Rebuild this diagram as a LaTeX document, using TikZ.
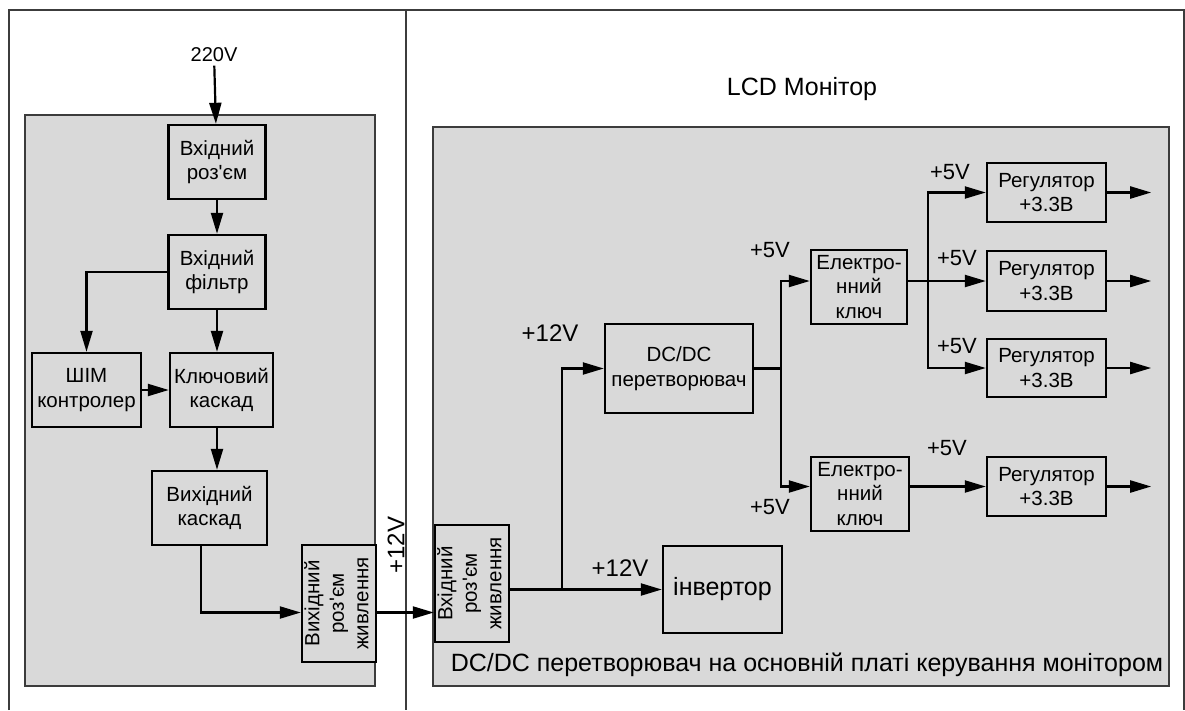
\documentclass[tikz,border=0pt]{standalone}
\usepackage{fontspec}
\usepackage{graphicx}
\setmainfont{Liberation Sans}
\usetikzlibrary{arrows.meta}
\definecolor{panelgray}{RGB}{217,217,217}
\definecolor{framegray}{RGB}{60,60,60}
\newcommand{\apos}{\textquotesingle}
\tikzset{
  blok/.style={draw,line width=2.4pt,fill=panelgray,inner sep=0pt,align=center,
    font=\fontsize{20.5}{24.5}\selectfont},
  panel/.style={draw=framegray,line width=1.4pt,fill=panelgray},
  arr/.style={-{Triangle[length=21pt,width=12pt]},line width=2.2pt},
  wire/.style={line width=2.2pt},
  volt/.style={font=\fontsize{22}{24}\selectfont},
  bigvolt/.style={font=\fontsize{24}{26}\selectfont}
}
\begin{document}
\begin{tikzpicture}[x=1pt,y=-1pt]
\useasboundingbox (0,0) rectangle (1185,710);
\draw[framegray,line width=1.3pt] (9,710) -- (9,10) -- (1184,10) -- (1184,710);
\draw[framegray,line width=1.3pt] (406,10) -- (406,710);
\draw[panel] (25,115) rectangle (375,686);
\draw[panel] (433,127) rectangle (1169,686);

\node[font=\fontsize{20}{22}\selectfont] (v220) at (214,55) {220V};
\node[font=\fontsize{25}{28}\selectfont] (lcd) at (802,89) {LCD Монітор};
\node[font=\fontsize{25}{28}\selectfont] (caption) at (807,665)
  {DC/DC перетворювач на основній платі керування монітором};

\node[blok,minimum width=97,minimum height=74] (inconn) at (217,162) {Вхідний\\роз\apos{}єм};
\node[blok,minimum width=97,minimum height=74] (filter) at (217,272) {Вхідний\\фільтр};
\node[blok,minimum width=109,minimum height=74] (pwm) at (86.5,390) {ШІМ\\контролер};
\node[blok,minimum width=103,minimum height=74] (keyst) at (221.5,390) {Ключовий\\каскад};
\node[blok,minimum width=115,minimum height=74] (outst) at (209.5,508) {Вихідний\\каскад};
\node[blok,minimum width=74,minimum height=117] (outconn) at (339,603.5)
  {\rotatebox{90}{\begin{tabular}{@{}c@{}}Вихідний\\роз\apos{}єм\\живлення\end{tabular}}};
\node[bigvolt,rotate=90] (v12a) at (396,545) {+12V};

\node[blok,minimum width=74,minimum height=117] (inpow) at (472,583.5)
  {\rotatebox{90}{\begin{tabular}{@{}c@{}}Вхідний\\роз\apos{}єм\\живлення\end{tabular}}};
\node[blok,minimum width=148,minimum height=89] (dcdc) at (679,368.5) {DC/DC\\перетворювач};
\node[blok,minimum width=119,minimum height=87,font=\fontsize{25}{28}\selectfont] (inv) at (722.5,589.5) {інвертор};
\node[blok,minimum width=96,minimum height=74] (key1) at (859,287) {Електро-\\нний\\ключ};
\node[blok,minimum width=98,minimum height=74] (key2) at (860,494) {Електро-\\нний\\ключ};
\node[blok,minimum width=119,minimum height=59] (reg1) at (1046.5,192.5) {Регулятор\\+3.3В};
\node[blok,minimum width=119,minimum height=60] (reg2) at (1046.5,281) {Регулятор\\+3.3В};
\node[blok,minimum width=119,minimum height=58] (reg3) at (1046.5,368) {Регулятор\\+3.3В};
\node[blok,minimum width=119,minimum height=59] (reg4) at (1046.5,486.5) {Регулятор\\+3.3В};

\node[bigvolt] (v12b) at (550,333) {+12V};
\node[bigvolt] (v12c) at (620,568) {+12V};
\node[volt] (v5a) at (770,250) {+5V};
\node[volt] (v5b) at (770,507) {+5V};
\node[volt] (v5c) at (950,172) {+5V};
\node[volt] (v5d) at (957,258) {+5V};
\node[volt] (v5e) at (957,346) {+5V};
\node[volt] (v5f) at (947,448) {+5V};

\coordinate (j12) at (562,589.5);
\coordinate (j5) at (781,368.5);
\coordinate (j33) at (928,281);

\draw[arr] (v220) -- (inconn);
\draw[arr] (inconn) -- (filter);
\draw[arr] (filter.west) -| (pwm.north);
\draw[arr] (filter.south) -- (filter.south |- keyst.north);
\draw[arr] (pwm.east) -- (keyst.west);
\draw[arr] (filter.south |- keyst.south) -- (filter.south |- outst.north);
\draw[arr] ([xshift=-8.5pt]outst.south) |- ([yshift=-9pt]outconn.west);
\draw[arr] ([yshift=-9pt]outconn.east) -- ([yshift=-9pt]outconn.east -| inpow.west);

\draw[arr] (inpow.east |- inv.west) -- (inv.west);
\draw[arr] (j12) |- (dcdc.west);
\draw[wire] (dcdc.east) -- (j5);
\draw[arr] (j5) |- ([yshift=6pt]key1.west);
\draw[arr] (j5) |- (key2.west |- reg4.west);
\draw[arr] ([yshift=6pt]key1.east) -- (reg2.west);
\draw[arr] (j33) |- (reg1.west);
\draw[arr] (j33) |- (reg3.west);
\draw[arr] (key2.east |- reg4.west) -- (reg4.west);
\foreach \r in {reg1,reg2,reg3,reg4}
  \draw[arr] (\r.east) -- ++(44,0);
\end{tikzpicture}
\end{document}
